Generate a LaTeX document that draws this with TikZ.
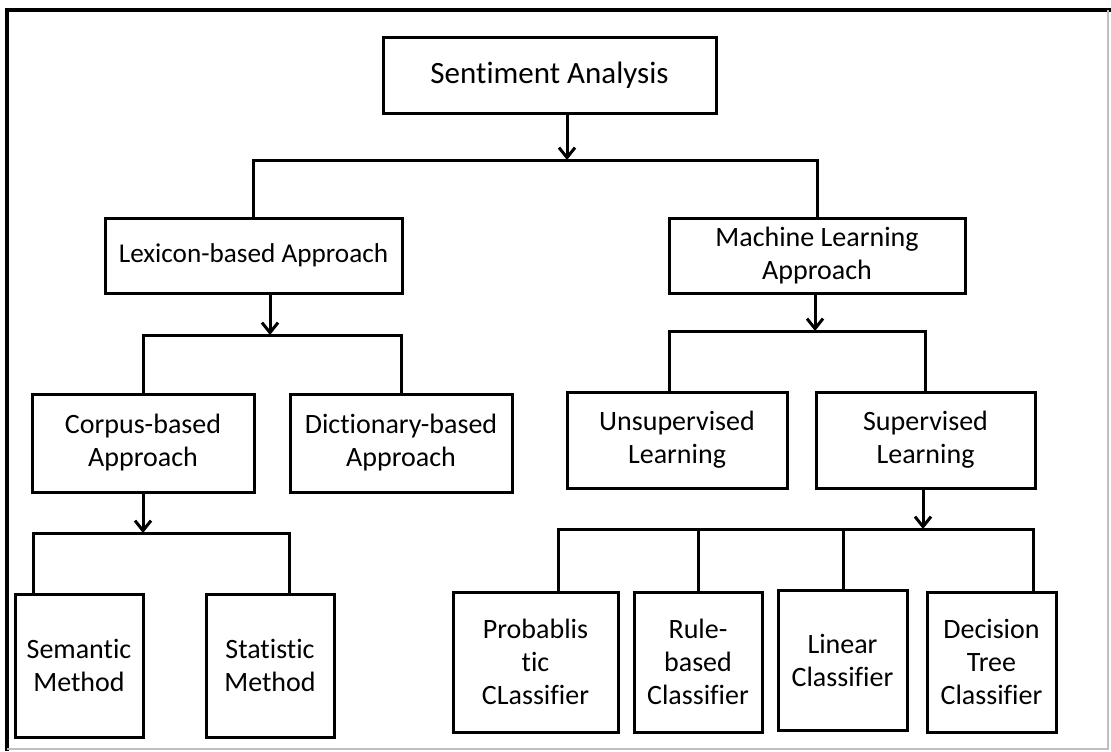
\documentclass[tikz,border=0pt]{standalone}
\usepackage{fontspec}
\setmainfont{Carlito}[Ligatures=NoCommon]
\usetikzlibrary{arrows.meta}
\tikzset{
  box/.style={draw, line width=1.5pt, align=center, inner sep=2pt, font=\fontsize{14}{16.5}\selectfont},
  link/.style={line width=1.5pt},
  arr/.style={line width=1.5pt, -{Straight Barb[length=5pt,width=8pt]}}
}
\begin{document}
\begin{tikzpicture}[x=0.5pt, y=-0.5pt]
  \useasboundingbox (0,0) rectangle (1111,751);
  % frame
  \draw[line width=2pt] (7,751) -- (7,10) -- (1111,10);
  \draw[black!25, line width=1pt] (1108,10) -- (1108,749) -- (7,749);
  %nodes
  \node[box, minimum width=166.5pt, minimum height=38pt, font=\fontsize{15.5}{18}\selectfont] at (549.5,75) (sa) {Sentiment Analysis};
  \node[box, minimum width=148.5pt, minimum height=37.5pt, font=\fontsize{13.6}{16.5}\selectfont] at (253.5,255.5) (lex) {Lexicon-based Approach};
  \node[box, minimum width=148pt, minimum height=37.5pt] at (817,255.5) (ml) {Machine Learning\\Approach};
  \node[box, minimum width=111pt, minimum height=49pt] at (143,443) (corp) {Corpus-based\\Approach};
  \node[box, minimum width=111pt, minimum height=49pt] at (401,443) (dict) {Dictionary-based\\Approach};
  \node[box, minimum width=110pt, minimum height=48pt] at (677,440) (unsup) {Unsupervised\\Learning};
  \node[box, minimum width=109.5pt, minimum height=48pt] at (925.5,440) (sup) {Supervised\\Learning};
  \node[box, minimum width=64pt, minimum height=71.5pt] at (79,665.5) (sem) {Semantic\\Method};
  \node[box, minimum width=64pt, minimum height=71.5pt] at (270,665.5) (stat) {Statistic\\Method};
  \node[box, minimum width=82.5pt, minimum height=70pt] at (535.5,662) (prob) {Probablis\\tic\\CLassifier};
  \node[box, minimum width=64pt, minimum height=70pt] at (698,662) (rule) {Rule-\\based\\Classifier};
  \node[box, minimum width=64.5pt, minimum height=70pt] at (842.5,660) (lin) {Linear\\Classifier};
  \node[box, minimum width=64.5pt, minimum height=70pt] at (991.5,662) (dec) {Decision\\Tree\\Classifier};
  %connectors
  \coordinate (b0) at (567,160);
  \draw[arr] (b0 |- sa.south) -- (b0);
  \draw[link] (lex.north) |- (b0) -| (ml.north);
  \coordinate (b1) at (270,335);
  \draw[arr] (b1 |- lex.south) -- (b1);
  \draw[link] (corp.north) |- (b1) -| (dict.north);
  \coordinate (b2) at (815,331);
  \coordinate (u) at (669,331);
  \draw[arr] (b2 |- ml.south) -- (b2);
  \draw[link] (u |- unsup.north) -- (u) -- (b2) -| (sup.north);
  \coordinate (b3) at (143,533);
  \coordinate (s1) at (33,533);
  \coordinate (s2) at (289,533);
  \draw[arr] (corp.south) -- (b3);
  \draw[link] (s1 |- sem.north) -- (s1) -- (s2) -- (s2 |- stat.north);
  \coordinate (b4) at (923,529);
  \draw[arr] (b4 |- sup.south) -- (b4);
  \foreach \n/\x in {prob/558, rule/698, lin/843, dec/1033}
    \coordinate (k\n) at (\x,529);
  \draw[link] (kprob |- prob.north) -- (kprob) -- (kdec) -- (kdec |- dec.north);
  \draw[link] (krule) -- (krule |- rule.north);
  \draw[link] (klin) -- (klin |- lin.north);
\end{tikzpicture}
\end{document}
